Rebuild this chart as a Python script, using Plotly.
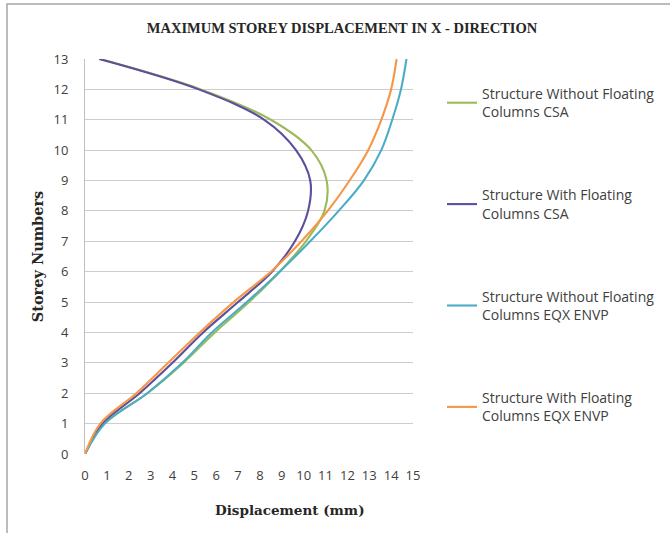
import plotly.graph_objects as go

# Storey levels (y) and maximum displacement (mm) for each model/analysis
storeys = list(range(0, 14))

without_fc_csa = [0, 0.9, 2.85, 4.5, 5.94, 7.5, 8.9, 10.1, 10.95, 11.05, 10.35, 8.5, 5.3, 0.7]
with_fc_csa = [0, 0.8, 2.5, 4.0, 5.4, 7.0, 8.55, 9.6, 10.2, 10.3, 9.65, 8.2, 5.2, 0.65]
without_fc_eqx = [0, 0.9, 2.85, 4.45, 5.8, 7.4, 8.9, 10.3, 11.6, 12.75, 13.55, 14.05, 14.45, 14.7]
with_fc_eqx = [0, 0.7, 2.35, 3.8, 5.25, 6.8, 8.5, 9.9, 11.1, 12.1, 12.95, 13.55, 14.0, 14.25]

series_names = [
    "Structure Without Floating<br>Columns CSA",
    "Structure With Floating<br>Columns CSA",
    "Structure Without Floating<br>Columns EQX ENVP",
    "Structure With Floating<br>Columns EQX ENVP",
]
series_values = [without_fc_csa, with_fc_csa, without_fc_eqx, with_fc_eqx]
series_colors = ["#9BBB59", "#5B4F9E", "#4BACC6", "#F79646"]

x_ticks = list(range(0, 16))
y_ticks = list(range(0, 14))

fig = go.Figure()
for i, (name, vals, col) in enumerate(zip(series_names, series_values, series_colors)):
    fig.add_trace(go.Scatter(
        x=vals, y=storeys, name=name, mode="lines",
        line=dict(color=col, width=2.1, shape="spline", smoothing=1.0),
        legendgroup=f"g{i}",
    ))

W, H = 670, 533
L, R, T, B = 85, 257, 59, 79
pw, ph = W - L - R, H - T - B

def px_to_paper_x(px):
    return (px - L) / pw

def px_to_paper_y(py):
    return (H - B - py) / ph

tick_font = dict(family="Open Sans, sans-serif", size=13, color="#404040")
axis_title_font = dict(family="DejaVu Serif, serif", size=14.5, color="#262626")

fig.update_layout(
    width=W, height=H,
    margin=dict(l=L, r=R, t=T, b=B, autoexpand=False),
    paper_bgcolor="white", plot_bgcolor="white",
    font=dict(family="Open Sans, sans-serif", color="#404040", size=12),
    title=dict(
        text="<b>MAXIMUM STOREY DISPLACEMENT IN X - DIRECTION</b>",
        font=dict(family="Liberation Serif, serif", size=14.5, color="#262626"),
        x=px_to_paper_x(342), xref="paper", xanchor="center",
        y=1 - 28 / H, yanchor="middle",
    ),
    xaxis=dict(
        range=[0, 15], tickvals=x_ticks, ticktext=[str(v) for v in x_ticks],
        showgrid=False, zeroline=False, showline=False,
        ticks="", ticklen=0, ticklabelstandoff=12,
        tickfont=tick_font,
    ),
    yaxis=dict(
        range=[0, 13], tickvals=y_ticks, ticktext=[str(v) for v in y_ticks],
        showgrid=True, gridcolor="#CDCDCD", gridwidth=1,
        zeroline=False, showline=True, linecolor="#BFBFBF", linewidth=1,
        ticks="", ticklen=0, ticklabelstandoff=13,
        tickfont=tick_font,
        title=dict(text="<b>Storey Numbers</b>", font=axis_title_font, standoff=6),
    ),
    legend=dict(
        x=px_to_paper_x(442), y=px_to_paper_y(78), xanchor="left", yanchor="top",
        font=dict(family="Open Sans, sans-serif", size=14, color="#404040"),
        tracegroupgap=62, traceorder="grouped",
        bgcolor="rgba(0,0,0,0)", itemwidth=30,
    ),
    showlegend=True,
)

# X-axis title, placed as in the chart layout (right of the plot centre)
fig.add_annotation(
    text="<b>Displacement (mm)</b>", font=dict(family="DejaVu Serif, serif", size=13.5, color="#262626"),
    xref="paper", yref="paper", x=px_to_paper_x(290), y=px_to_paper_y(510),
    xanchor="center", yanchor="middle", showarrow=False,
)

# Chart frame (left and top edges visible in the window)
fig.add_shape(type="rect", xref="paper", yref="paper",
              x0=px_to_paper_x(7), x1=px_to_paper_x(700),
              y0=px_to_paper_y(560), y1=px_to_paper_y(4),
              line=dict(color="#A6A6A6", width=1.5), fillcolor="rgba(0,0,0,0)",
              layer="below")

fig.write_html("out.html")
